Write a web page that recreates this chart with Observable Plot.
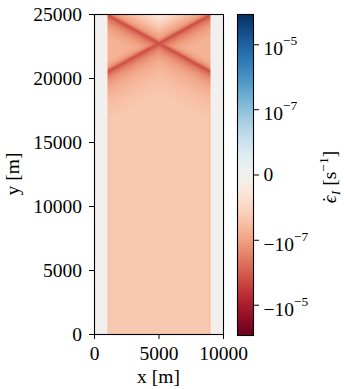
<!DOCTYPE html>
<html>
<head>
<meta charset="utf-8">
<script src="https://cdn.jsdelivr.net/npm/d3@7"></script>
<script src="https://cdn.jsdelivr.net/npm/@observablehq/plot@0.6"></script>
<style>
  html, body { margin: 0; padding: 0; background: #fff; }
  #chart { position: relative; width: 344px; height: 389px; }
  #chart svg { position: absolute; left: 0; top: 0; }
</style>
</head>
<body>
<div id="chart"></div>
<script>
// ---- Model domain (m) ----
const xDomain = [0, 10000];
const yDomain = [0, 25000];
const activeX = [1000, 9000];          // deforming block; the margins on either side are rigid
const outsideRate = 1e-10;             // rigid margins (s^-1)

// ---- Upper shear bands: straight lines from each top corner to the opposite side ----
const bandTopY = 25000;
const bandSideY = 20550;

// Strain rate across a band, by vertical distance (m) above / below the band line
const aboveDist = [0, 50, 150, 350, 600, 900, 1250, 1600, 1900, 2300];
const aboveRate = [-2e-6, -9e-7, -3e-7, -1.1e-7, -7e-8, -3.5e-8, -1.8e-8, -8e-9, -4e-9, -1.5e-9];
const belowDist = [0, 100, 300, 600, 1000, 1500, 2200, 3000, 4000];
const belowRate = [-2e-6, -1.1e-6, -4.5e-7, -2e-7, -1e-7, -6e-8, -3.8e-8, -2.6e-8, -1.9e-8];
const sideRate = -5e-8;                // wedges between the two bands at the sides

// Thin strip of faster shortening along the block sides (left, right)
const edgeWidth = 120;
const edgeRate = [-3e-8, -4e-8];

// ---- Background rate below the bands (rows from bottom to top) ----
const gridX = [1000, 2000, 3000, 4000, 5000, 6000, 7000, 8000, 9000];
const gridY = [0, 500, 1000, 1500, 2000, 2500, 3000, 3500, 4000, 5000, 6000, 8000,
               10000, 12000, 14000, 16000, 18000, 20000, 25000];
const gridRate = [
  [-2.8e-8, -6e-9, -3.5e-9, -2.8e-9, -2.5e-9, -2.8e-9, -3.5e-9, -6e-9, -2.8e-8],
  [-8e-9, -7e-9, -3.5e-9, -3e-9, -2.7e-9, -3e-9, -3.5e-9, -7e-9, -8e-9],
  [-6.5e-9, -5.5e-9, -5.5e-9, -3.5e-9, -3e-9, -3.5e-9, -5.5e-9, -5.5e-9, -6.5e-9],
  [-6e-9, -5.5e-9, -5e-9, -5.5e-9, -3.8e-9, -5.5e-9, -5e-9, -5.5e-9, -6e-9],
  [-6e-9, -5.5e-9, -5e-9, -5.5e-9, -6e-9, -5.5e-9, -5e-9, -5.5e-9, -6e-9],
  [-6e-9, -5.5e-9, -5.5e-9, -7e-9, -1.1e-8, -7e-9, -5.5e-9, -5.5e-9, -6e-9],
  [-6.5e-9, -6e-9, -6.5e-9, -1.2e-8, -1.4e-8, -1.2e-8, -6.5e-9, -6e-9, -6.5e-9],
  [-7e-9, -7e-9, -1.1e-8, -1.4e-8, -1.5e-8, -1.4e-8, -1.1e-8, -7e-9, -7e-9],
  [-8e-9, -1e-8, -1.3e-8, -1.4e-8, -1.5e-8, -1.4e-8, -1.3e-8, -1e-8, -8e-9],
  [-1.1e-8, -1.2e-8, -1.3e-8, -1.35e-8, -1.35e-8, -1.35e-8, -1.3e-8, -1.2e-8, -1.1e-8],
  [-1.1e-8, -1.15e-8, -1.2e-8, -1.2e-8, -1.2e-8, -1.2e-8, -1.2e-8, -1.15e-8, -1.1e-8],
  [-1.1e-8, -1.1e-8, -1.15e-8, -1.15e-8, -1.15e-8, -1.15e-8, -1.15e-8, -1.1e-8, -1.1e-8],
  [-1.2e-8, -1.2e-8, -1.2e-8, -1.2e-8, -1.2e-8, -1.2e-8, -1.2e-8, -1.2e-8, -1.2e-8],
  [-1.3e-8, -1.3e-8, -1.3e-8, -1.3e-8, -1.3e-8, -1.3e-8, -1.3e-8, -1.3e-8, -1.3e-8],
  [-1.45e-8, -1.45e-8, -1.45e-8, -1.45e-8, -1.45e-8, -1.45e-8, -1.45e-8, -1.45e-8, -1.45e-8],
  [-1.6e-8, -1.6e-8, -1.6e-8, -1.6e-8, -1.6e-8, -1.6e-8, -1.6e-8, -1.6e-8, -1.6e-8],
  [-1.8e-8, -1.8e-8, -1.8e-8, -1.8e-8, -1.8e-8, -1.8e-8, -1.8e-8, -1.8e-8, -1.8e-8],
  [-1.9e-8, -1.9e-8, -1.9e-8, -1.9e-8, -1.9e-8, -1.9e-8, -1.9e-8, -1.9e-8, -1.9e-8],
  [-1.9e-8, -1.9e-8, -1.9e-8, -1.9e-8, -1.9e-8, -1.9e-8, -1.9e-8, -1.9e-8, -1.9e-8]
];

// ---- Colour scale and ticks ----
const rateDomain = [-8.5e-5, 8.5e-5];
const rateTicks = [-1e-5, -1e-7, 0, 1e-7, 1e-5];
const xTicks = [0, 5000, 10000];
const yTicks = [0, 5000, 10000, 15000, 20000, 25000];
const xLabel = "x [m]";
const yLabel = "y [m]";

// ---- Field lookup ----
const line1 = d3.scaleLinear(activeX, [bandTopY, bandSideY]);   // from the top-left corner
const line2 = d3.scaleLinear(activeX, [bandSideY, bandTopY]);   // from the top-right corner
const above = d3.scaleLinear(aboveDist, aboveRate).clamp(true);
const below = d3.scaleLinear(belowDist, belowRate).clamp(true);
const rows = gridRate.map((r) => d3.scaleLinear(gridX, r).clamp(true));
const background = (x, y) => d3.scaleLinear(gridY, rows.map((s) => s(x))).clamp(true)(y);

function rate(x, y) {
  if (x < activeX[0] || x > activeX[1]) return outsideRate;
  const y1 = line1(x), y2 = line2(x);
  const lo = Math.min(y1, y2), hi = Math.max(y1, y2);
  let v;
  if (y >= hi) v = Math.min(above(y - y1), above(y - y2));               // wedge under the top edge
  else if (y >= lo) v = Math.min(sideRate, below(hi - y), above(y - lo)); // side wedges
  else v = Math.min(background(x, y), below(y1 - y), below(y2 - y));      // below the bands
  if (x < activeX[0] + edgeWidth) v = Math.min(v, edgeRate[0]);
  if (x > activeX[1] - edgeWidth) v = Math.min(v, edgeRate[1]);
  return v;
}

const color = {type: "symlog", constant: 1e-9, domain: rateDomain, scheme: "RdBu"};
const font = {fontFamily: "'Liberation Serif', 'Times New Roman', serif", fontSize: "19.5px", color: "black", overflow: "visible"};

const main = Plot.plot({
  width: 344, height: 389,
  marginLeft: 94, marginRight: 121, marginTop: 14, marginBottom: 55,
  x: {domain: xDomain},
  y: {domain: yDomain},
  color,
  style: {...font, background: "white"},
  marks: [
    Plot.raster({fill: rate, x1: xDomain[0], x2: xDomain[1], y1: yDomain[0], y2: yDomain[1]}),
    Plot.frame({stroke: "black", strokeWidth: 1.1}),
    Plot.axisX({ticks: xTicks, tickSize: 5, tickPadding: 6.5, tickFormat: (d) => String(d), label: null}),
    Plot.axisY({ticks: yTicks, tickSize: 5, tickPadding: 7.5, tickFormat: (d) => String(d), label: null})
  ]
});

const fmtRate = (d) => d === 0 ? "0" : `${d < 0 ? "\u2212" : ""}10^\u2212${Math.round(-Math.log10(Math.abs(d)))}`;

const cbar = Plot.plot({
  width: 344, height: 389,
  marginLeft: 237, marginRight: 91, marginTop: 14, marginBottom: 54,
  x: {domain: [0, 1], axis: null},
  y: {type: "symlog", constant: 1e-9, domain: rateDomain},
  color,
  style: {...font, background: "transparent"},
  marks: [
    Plot.raster({fill: (x, y) => y, x1: 0, x2: 1, y1: rateDomain[0], y2: rateDomain[1]}),
    Plot.frame({stroke: "black", strokeWidth: 1.1}),
    Plot.axisY({anchor: "right", ticks: rateTicks, tickSize: 5, tickPadding: 5, tickFormat: fmtRate, label: null})
  ]
});

// Powers of ten with raised exponents
d3.select(cbar).selectAll("text").each(function () {
  const s = this.textContent;
  const k = s.indexOf("^");
  if (k < 0) return;
  const t = d3.select(this).text(null);
  t.append("tspan").attr("dy", "0.22em").text(s.slice(0, k));
  t.append("tspan").attr("font-size", "13.5px").attr("dy", "-0.75em").text(s.slice(k + 1));
});

// Axis titles
const m = d3.select(main);
m.append("text").attr("x", 158.5).attr("y", 383).attr("text-anchor", "middle").attr("fill", "black").text(xLabel);
m.append("text").attr("transform", "translate(19,174) rotate(-90)").attr("text-anchor", "middle").attr("fill", "black").text(yLabel);

// Colour bar title: epsilon-dot sub I, [s^-1]
const cl = d3.select(cbar).append("text")
  .attr("transform", "translate(335.5,177) rotate(-90)")
  .attr("text-anchor", "middle").attr("fill", "black");
cl.append("tspan").attr("font-style", "italic").text("\u03F5");
cl.append("tspan").attr("dx", "-0.38em").text("\u02D9");
cl.append("tspan").attr("font-style", "italic").attr("font-size", "13.5px").attr("dx", "1").attr("dy", "4").text("I");
cl.append("tspan").attr("dy", "-4").text(" [s");
cl.append("tspan").attr("font-size", "13.5px").attr("dy", "-8").text("\u22121");
cl.append("tspan").attr("dy", "8").text("]");

const chart = document.getElementById("chart");
chart.append(main);
chart.append(cbar);
</script>
</body>
</html>
